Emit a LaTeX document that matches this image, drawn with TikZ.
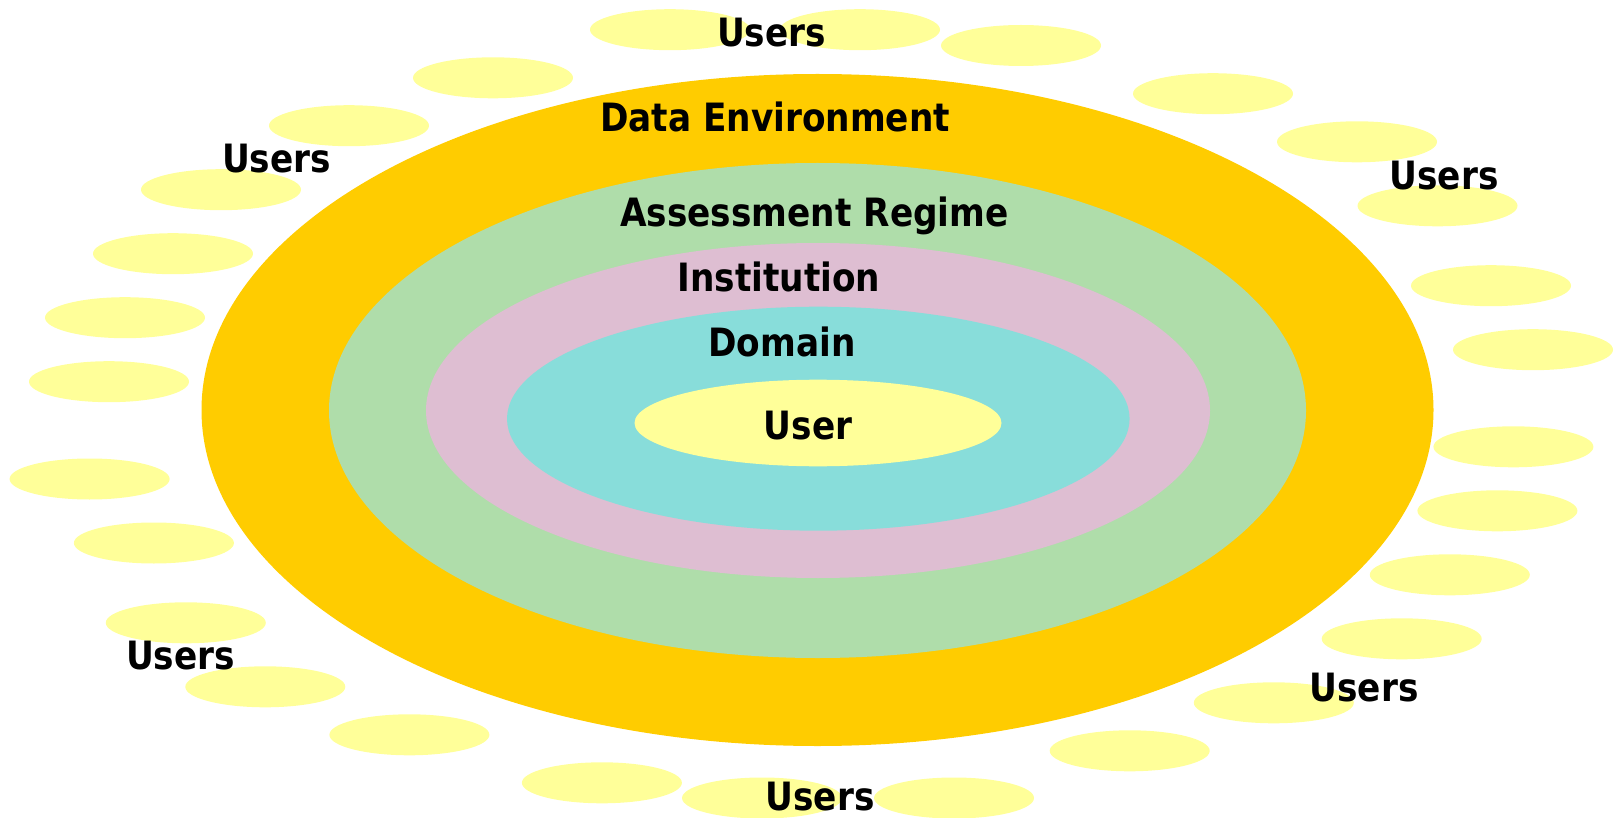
\documentclass[tikz,border=0pt]{standalone}
\usepackage{fontspec}
\newfontfamily\labelfont[FakeStretch=0.88]{DejaVu Sans}
\definecolor{usercol}{RGB}{255,255,153}
\definecolor{envcol}{RGB}{255,204,0}
\definecolor{regimecol}{RGB}{175,221,170}
\definecolor{instcol}{RGB}{222,190,210}
\definecolor{domaincol}{RGB}{136,221,218}
\tikzset{
  lab/.style={anchor=base,font=\labelfont\bfseries\fontsize{39}{47}\selectfont},
  blob/.style={fill=usercol}
}
\begin{document}
\begin{tikzpicture}[x=1pt,y=-1pt]
\useasboundingbox (0,0) rectangle (1614,818);

% outer users
\fill[blob] (670,29.7) ellipse [x radius=80pt, y radius=20.5pt];
\fill[blob] (860,29.7) ellipse [x radius=80pt, y radius=20.5pt];
\fill[blob] (1021,45.5) ellipse [x radius=80pt, y radius=20.5pt];
\fill[blob] (493,77.8) ellipse [x radius=80pt, y radius=20.5pt];
\fill[blob] (1213,93.7) ellipse [x radius=80pt, y radius=20.5pt];
\fill[blob] (349,125.7) ellipse [x radius=80pt, y radius=20.5pt];
\fill[blob] (1357,141.8) ellipse [x radius=80pt, y radius=20.5pt];
\fill[blob] (221,189.7) ellipse [x radius=80pt, y radius=20.5pt];
\fill[blob] (1437.5,205.8) ellipse [x radius=80pt, y radius=20.5pt];
\fill[blob] (173,253.7) ellipse [x radius=80pt, y radius=20.5pt];
\fill[blob] (1491,285.7) ellipse [x radius=80pt, y radius=20.5pt];
\fill[blob] (125,317.7) ellipse [x radius=80pt, y radius=20.5pt];
\fill[blob] (1533,349.7) ellipse [x radius=80pt, y radius=20.5pt];
\fill[blob] (109,381.7) ellipse [x radius=80pt, y radius=20.5pt];
\fill[blob] (1513.4,446.8) ellipse [x radius=80pt, y radius=20.5pt];
\fill[blob] (89.6,479) ellipse [x radius=80pt, y radius=20.5pt];
\fill[blob] (1497.4,510.8) ellipse [x radius=80pt, y radius=20.5pt];
\fill[blob] (153.9,543) ellipse [x radius=80pt, y radius=20.5pt];
\fill[blob] (1449.8,574.8) ellipse [x radius=80pt, y radius=20.5pt];
\fill[blob] (185.8,622.8) ellipse [x radius=80pt, y radius=20.5pt];
\fill[blob] (1401.7,638.8) ellipse [x radius=80pt, y radius=20.5pt];
\fill[blob] (265.3,686.8) ellipse [x radius=80pt, y radius=20.5pt];
\fill[blob] (1273.8,702.8) ellipse [x radius=80pt, y radius=20.5pt];
\fill[blob] (409.4,734.8) ellipse [x radius=80pt, y radius=20.5pt];
\fill[blob] (1129.7,750.8) ellipse [x radius=80pt, y radius=20.5pt];
\fill[blob] (601.9,782.8) ellipse [x radius=80pt, y radius=20.5pt];
\fill[blob] (762,798) ellipse [x radius=80pt, y radius=20.5pt];
\fill[blob] (954,798) ellipse [x radius=80pt, y radius=20.5pt];

% rings
\fill[color=envcol] (817.5,410) ellipse [x radius=616pt, y radius=336pt];
\fill[color=regimecol] (817.5,410.5) ellipse [x radius=488.5pt, y radius=247.5pt];
\fill[color=instcol] (818,410.5) ellipse [x radius=392pt, y radius=167.5pt];
\fill[color=domaincol] (818.3,418.7) ellipse [x radius=311.3pt, y radius=112pt];
\fill[color=usercol] (818,423) ellipse [x radius=183.5pt, y radius=43.3pt];

\node[lab] (env) at (775,132) {Data Environment};
\node[lab] (regime) at (814.5,227) {Assessment Regime};
\node[lab] (inst) at (779,292) {Institution};
\node[lab] (domain) at (782,356) {Domain};
\node[lab] (user) at (808,439) {User};

\node[lab] (usersN) at (771.5,47) {Users};
\node[lab] (usersNW) at (276.5,173) {Users};
\node[lab] (usersNE) at (1444,190) {Users};
\node[lab] (usersSW) at (180.5,669) {Users};
\node[lab] (usersSE) at (1364,701) {Users};
\node[lab] (usersS) at (820,810) {Users};
\end{tikzpicture}
\end{document}
